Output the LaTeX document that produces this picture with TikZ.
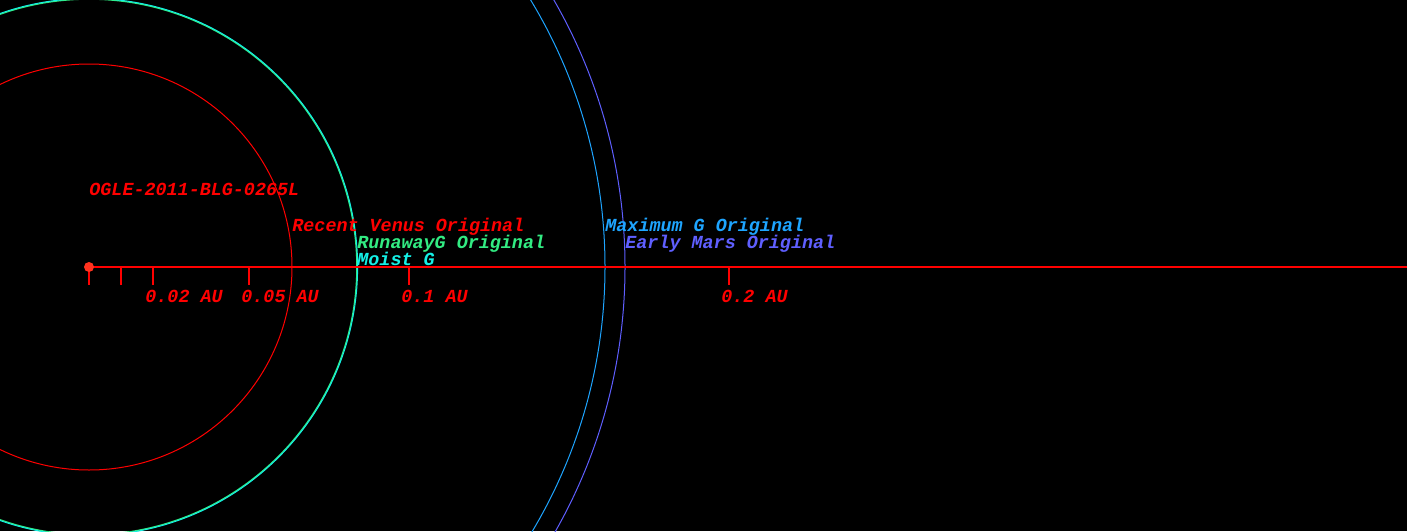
\documentclass[tikz,border=0pt]{standalone}
\usepackage{fontspec}
\setmonofont{Liberation Mono}
\usepackage{xcolor}
\usetikzlibrary{positioning, calc}

\definecolor{venusred}{RGB}{255,0,0}
\definecolor{starred}{RGB}{255,50,30}
\definecolor{runawaygreen}{RGB}{50,235,130}
\definecolor{moistcyan}{RGB}{20,240,230}
\definecolor{maxgblue}{RGB}{30,165,255}
\definecolor{marsblue}{RGB}{95,95,255}

\begin{document}
\begin{tikzpicture}[
        x=0.5pt, y=0.5pt,
        lbl/.style={font=\ttfamily\bfseries\itshape\fontsize{9.2}{11}\selectfont, inner sep=0pt, anchor=base west},
        orbit/.style={line width=0.5pt},
        axisline/.style={draw=venusred, line width=0.8pt}
    ]
        % --- Fond noir ---
        \fill[black] (-89,-264) rectangle (1318,267);
        \useasboundingbox (-89,-264) rectangle (1318,267);

        % --- Etoile et axe ---
        \coordinate (S) at (0,0);
        \coordinate (E) at (1318,0);

        % --- Zones habitables ---
        \draw[orbit, venusred] (S) circle (203);
        \draw[line width=0.6pt, runawaygreen] (S) circle (267.8);
        \draw[orbit, moistcyan] (S) circle (268.6);
        \draw[orbit, maxgblue] (S) circle (516);
        \draw[orbit, marsblue] (S) circle (536);

        % --- Axe des distances ---
        \draw[axisline] (S) -- (E);
        \foreach \d/\n in {0/t0, 32/t1, 64/t2, 160/t5, 320/t10, 640/t20}
            \draw[axisline] (\d,0) coordinate (\n) -- ++(0,-18);

        % --- Graduations ---
        \node[lbl, text=venusred] (l2)  at ($(t2)+(-8,-35)$)  {0.02 AU};
        \node[lbl, text=venusred] (l5)  at ($(t5)+(-8,-35)$)  {0.05 AU};
        \node[lbl, text=venusred] (l10) at ($(t10)+(-8,-35)$) {0.1 AU};
        \node[lbl, text=venusred] (l20) at ($(t20)+(-8,-35)$) {0.2 AU};

        % --- Etoile ---
        \fill[starred] (S) circle (5);
        \node[lbl, text=venusred] (name) at (0,72) {OGLE-2011-BLG-0265L};

        % --- Noms des limites ---
        \node[lbl, text=venusred]     (venus)   at (203,36) {Recent Venus Original};
        \node[lbl, text=runawaygreen] (runaway) at (268,19) {RunawayG Original};
        \node[lbl, text=moistcyan]    (moist)   at (268,2)  {Moist G};
        \node[lbl, text=maxgblue]     (maxg)    at (516,36) {Maximum G Original};
        \node[lbl, text=marsblue]     (mars)    at (536,19) {Early Mars Original};

    \end{tikzpicture}
\end{document}
